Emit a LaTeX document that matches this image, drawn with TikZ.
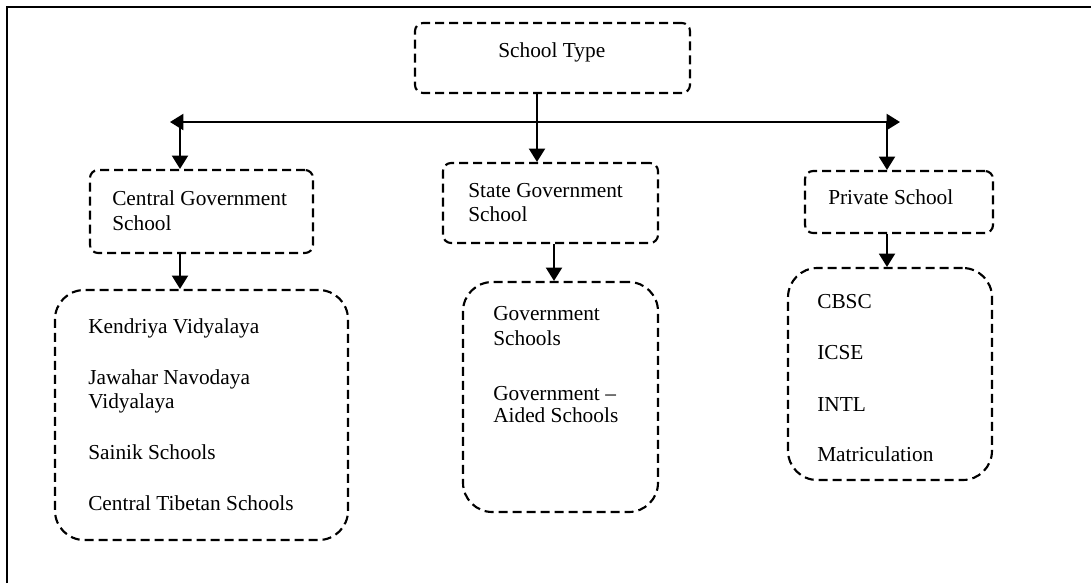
\documentclass[tikz,border=0pt]{standalone}
\usepackage{fontspec}
\setmainfont{Liberation Serif}
\usetikzlibrary{arrows.meta}
\begin{document}
\begin{tikzpicture}[x=0.75pt,y=-0.75pt,
  frameline/.style={line width=1.5pt},
  dbox/.style={draw,line width=1.6pt,dash pattern=on 6.75pt off 3.75pt,rounded corners=6pt,inner sep=0pt},
  lbox/.style={draw,line width=1.6pt,dash pattern=on 6.75pt off 3.75pt,rounded corners=22pt,inner sep=0pt},
  arr/.style={line width=1.5pt,-{Triangle[length=10pt,width=12pt]}},
  dblarr/.style={line width=1.5pt,{Triangle[length=10pt,width=12pt]}-{Triangle[length=10pt,width=12pt]}},
  txt/.style={anchor=base west,inner sep=0pt,font=\fontsize{16pt}{18.75pt}\selectfont}]
\useasboundingbox (0,0) rectangle (1091,583);
% outer frame (top and left only)
\coordinate (fbl) at (7,583);
\coordinate (ftl) at (7,7);
\coordinate (ftr) at (1091,7);
\draw[frameline] (fbl) -- (ftl) -- (ftr);

% boxes
\node[dbox,minimum width=206.25pt,minimum height=52.5pt] (top) at (552.5,58) {};
\node[dbox,minimum width=167.25pt,minimum height=62.25pt] (central) at (201.5,211.5) {};
\node[dbox,minimum width=161.25pt,minimum height=60pt] (state) at (550.5,203) {};
\node[dbox,minimum width=141pt,minimum height=46.5pt] (private) at (899,202) {};
\node[lbox,minimum width=219.75pt,minimum height=187.5pt] (list1) at (201.5,415) {};
\node[lbox,minimum width=146.25pt,minimum height=172.5pt] (list2) at (560.5,397) {};
\node[lbox,minimum width=153pt,minimum height=159pt] (list3) at (890,374) {};

% texts
\node[txt] (t0) at (498,57) {School Type};
\node[txt] (c1) at (112,205) {Central Government};
\node[txt] (c2) at (112,230) {School};
\node[txt] (s1) at (468,197) {State Government};
\node[txt] (s2) at (468,221) {School};
\node[txt] (p1) at (828,204) {Private School};

\node[txt] (k1) at (88,333) {Kendriya Vidyalaya};
\node[txt] (k2) at (88,384) {Jawahar Navodaya};
\node[txt] (k3) at (88,408) {Vidyalaya};
\node[txt] (k4) at (88,459) {Sainik Schools};
\node[txt] (k5) at (88,510) {Central Tibetan Schools};

\node[txt] (g1) at (493,320) {Government};
\node[txt] (g2) at (493,345) {Schools};
\node[txt] (g3) at (493,400) {Government –};
\node[txt] (g4) at (493,422) {Aided Schools};

\node[txt] (r1) at (817,308) {CBSC};
\node[txt] (r2) at (817,359) {ICSE};
\node[txt] (r3) at (817,411) {INTL};
\node[txt] (r4) at (817,461) {Matriculation};

% connectors
\coordinate (hl) at (170,122);
\coordinate (hr) at (900,122);
\coordinate (cl) at (180,122);
\coordinate (cr) at (887,122);
\coordinate (mx) at (537,122);
\coordinate (sx) at (554,0);
\draw[dblarr] (hl) -- (hr);
\draw[arr] (top.south -| mx) -- (state.north -| mx);
\draw[arr] (cl) -- (central.north -| cl);
\draw[arr] (cr) -- (private.north -| cr);
\draw[arr] (central.south -| cl) -- (list1.north -| cl);
\draw[arr] (state.south -| sx) -- (list2.north -| sx);
\draw[arr] (private.south -| cr) -- (list3.north -| cr);
\end{tikzpicture}
\end{document}
